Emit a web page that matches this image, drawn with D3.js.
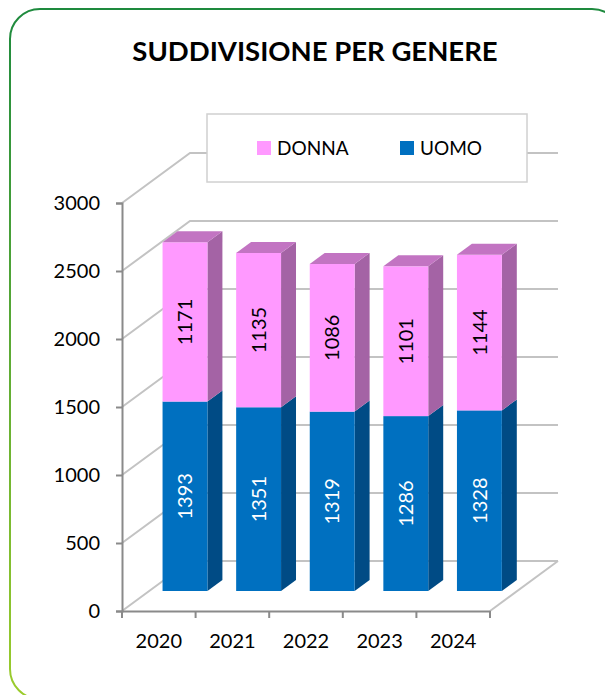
<!DOCTYPE html>
<html lang="it">
<head>
  <meta charset="UTF-8">
  <title>Suddivisione per genere</title>
  <script src="https://d3js.org/d3.v7.min.js"></script>
  <style>
    body { margin: 0; background: #fff; font-family: Lato, "Open Sans", sans-serif; }
    svg { display: block; }
  </style>
</head>
<body>
  <svg width="605" height="695"></svg>
  <script>
    const years = ["2020", "2021", "2022", "2023", "2024"];
    const uomo = [1393, 1351, 1319, 1286, 1328];
    const donna = [1171, 1135, 1086, 1101, 1144];
    const yTicks = [0, 500, 1000, 1500, 2000, 2500, 3000];
    const seriesNames = ["DONNA", "UOMO"];

    const svg = d3.select("svg");

    // outer rounded frame, green fading to yellow-green
    const grad = svg.append("defs").append("linearGradient")
      .attr("id", "frame").attr("x1", 0).attr("y1", 0).attr("x2", 0).attr("y2", 1);
    grad.append("stop").attr("offset", "0%").attr("stop-color", "#1e8a3e");
    grad.append("stop").attr("offset", "100%").attr("stop-color", "#9ccc2c");
    svg.append("rect")
      .attr("x", 10).attr("y", 9).attr("width", 612).attr("height", 690)
      .attr("rx", 30).attr("ry", 30)
      .attr("fill", "none").attr("stroke", "url(#frame)").attr("stroke-width", 2);

    // title
    svg.append("text")
      .attr("x", 315).attr("y", 61)
      .attr("text-anchor", "middle")
      .attr("font-size", "27.5px").attr("font-weight", "bold")
      .text("SUDDIVISIONE PER GENERE");

    // scales (front plane) + simple oblique depth
    const x = d3.scaleBand().domain(years).range([122, 490]);
    const y = d3.scaleLinear().domain([0, 3000]).range([611, 203]);
    const DX = 68, DY = 50;
    const P = (px, v, d) => [px + d * DX, y(v) - d * DY];
    const barW = x.bandwidth() * 0.61;
    const d0 = 0.4, d1 = 0.62;

    const grid = "#c3c3c3";

    // side wall + back wall gridlines
    yTicks.forEach(v => {
      const a = P(x.range()[0], v, 0), b = P(x.range()[0], v, 1), c = P(x.range()[1], v, 1);
      svg.append("polyline")
        .attr("points", [a, b, c].map(p => p.join(",")).join(" "))
        .attr("fill", "none").attr("stroke", grid).attr("stroke-width", 2);
    });
    // floor right edge
    const f1 = P(x.range()[1], 0, 0), f2 = P(x.range()[1], 0, 1);
    svg.append("line")
      .attr("x1", f1[0]).attr("y1", f1[1]).attr("x2", f2[0]).attr("y2", f2[1])
      .attr("stroke", grid).attr("stroke-width", 2);

    // legend
    const lg = svg.append("g");
    lg.append("rect")
      .attr("x", 207).attr("y", 114).attr("width", 320).attr("height", 68)
      .attr("fill", "#fff").attr("stroke", "#d0d0d0").attr("stroke-width", 1.5);
    const legendColors = ["#ff99ff", "#0070c0"];
    const legendX = [257, 400];
    seriesNames.forEach((s, i) => {
      lg.append("rect")
        .attr("x", legendX[i]).attr("y", 141).attr("width", 14).attr("height", 14)
        .attr("fill", legendColors[i]);
      lg.append("text")
        .attr("x", legendX[i] + 20).attr("y", 155)
        .attr("font-size", "19px")
        .text(s);
    });

    // axes
    const yAxis = svg.append("g")
      .attr("transform", `translate(${x.range()[0]},0)`)
      .call(d3.axisLeft(y).tickValues(yTicks).tickFormat(d3.format("d")).tickSize(6).tickPadding(16));
    yAxis.selectAll("line, path").attr("stroke", "#8a8a8a").attr("stroke-width", 2);
    yAxis.selectAll("text").attr("font-size", "20px").attr("fill", "#000")
      .attr("font-family", "Lato, sans-serif");

    const xAxis = svg.append("g")
      .attr("transform", `translate(0,${y(0)})`)
      .call(d3.axisBottom(x).tickSize(0).tickPadding(23));
    xAxis.select("path").attr("stroke", "#8a8a8a").attr("stroke-width", 2);
    xAxis.selectAll("text").attr("font-size", "20px").attr("fill", "#000")
      .attr("font-family", "Lato, sans-serif");
    const edges = years.map(d => x(d)).concat([x.range()[1]]);
    svg.append("g").selectAll("line").data(edges).join("line")
      .attr("x1", d => d).attr("x2", d => d)
      .attr("y1", y(0)).attr("y2", y(0) + 7)
      .attr("stroke", "#8a8a8a").attr("stroke-width", 2);

    // bars
    const series = [
      { name: "UOMO", values: uomo, front: "#0070c0", side: "#004b85", top: "#2e8ad0", label: "#fff" },
      { name: "DONNA", values: donna, front: "#ff99ff", side: "#a463a5", top: "#c274c2", label: "#000" }
    ];
    const poly = pts => pts.map(p => p.join(",")).join(" ");
    const bars = svg.append("g");

    years.forEach((yr, i) => {
      const x0 = x(yr) + (x.bandwidth() - barW) / 2 - 1;
      const x1 = x0 + barW;
      let base = 0;
      series.forEach((s, si) => {
        const v0 = base, v1 = base + s.values[i];
        base = v1;
        bars.append("polygon")
          .attr("points", poly([P(x1, v0, d0), P(x1, v0, d1), P(x1, v1, d1), P(x1, v1, d0)]))
          .attr("fill", s.side);
        const a = P(x0, v1, d0), b = P(x1, v0, d0);
        bars.append("rect")
          .attr("x", a[0]).attr("y", a[1])
          .attr("width", b[0] - a[0]).attr("height", b[1] - a[1])
          .attr("fill", s.front);
        if (si === series.length - 1) {
          bars.append("polygon")
            .attr("points", poly([P(x0, v1, d0), P(x1, v1, d0), P(x1, v1, d1), P(x0, v1, d1)]))
            .attr("fill", s.top);
        }
        const c = P((x0 + x1) / 2, (v0 + v1) / 2, d0);
        bars.append("text")
          .attr("transform", `translate(${c[0]},${c[1]}) rotate(-90)`)
          .attr("text-anchor", "middle").attr("dy", "0.36em")
          .attr("font-size", "20px").attr("fill", s.label)
          .text(s.values[i]);
      });
    });
  </script>
</body>
</html>
